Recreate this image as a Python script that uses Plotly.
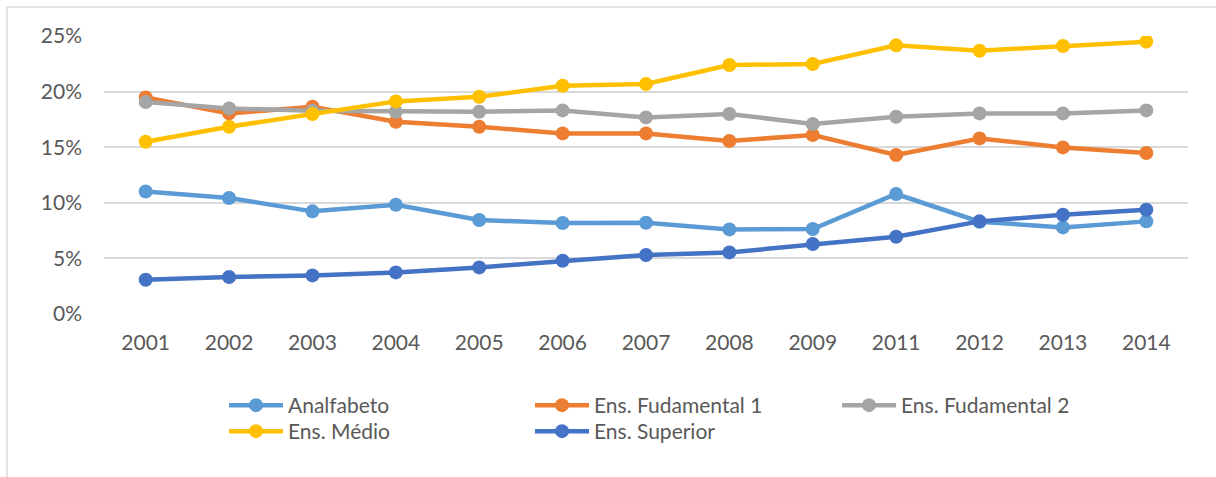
import plotly.graph_objects as go

# Education level share by year
years = ["2001", "2002", "2003", "2004", "2005", "2006", "2007",
         "2008", "2009", "2011", "2012", "2013", "2014"]

analfabeto = [0.1102, 0.1043, 0.0923, 0.0983, 0.0845, 0.0818, 0.0821,
              0.0761, 0.0764, 0.1079, 0.0830, 0.0779, 0.0833]
fundamental1 = [0.1948, 0.1804, 0.1864, 0.1729, 0.1684, 0.1624, 0.1624,
                0.1556, 0.1610, 0.1430, 0.1579, 0.1498, 0.1448]
fundamental2 = [0.1906, 0.1849, 0.1828, 0.1819, 0.1819, 0.1831, 0.1768,
                0.1799, 0.1709, 0.1774, 0.1804, 0.1804, 0.1831]
medio = [0.1549, 0.1684, 0.1799, 0.1912, 0.1954, 0.2053, 0.2068,
         0.2239, 0.2248, 0.2416, 0.2368, 0.2410, 0.2449]
superior = [0.0308, 0.0333, 0.0347, 0.0374, 0.0419, 0.0479, 0.0531,
            0.0554, 0.0629, 0.0695, 0.0833, 0.0893, 0.0938]

W, H = 1216, 477
L, R, T, B = 104, 28, 36, 163
pw, ph = W - L - R, H - T - B


def px_x(p):
    return (p - L) / pw


def px_y(p):
    return (H - B - p) / ph


# name, values, colour, legend id, legend box left/top in pixels
series = [
    ("Analfabeto", analfabeto, "#5B9BD5", "legend", 224, 385),
    ("Ens. Fudamental 1", fundamental1, "#ED7D31", "legend2", 530, 385),
    ("Ens. Fudamental 2", fundamental2, "#A5A5A5", "legend3", 837, 385),
    ("Ens. Médio", medio, "#FFC000", "legend4", 224, 411),
    ("Ens. Superior", superior, "#4472C4", "legend5", 530, 411),
]

FONT = "Lato, 'Open Sans', sans-serif"
TXT = "#595959"
FS = 21

fig = go.Figure()
for name, vals, color, leg, _, _ in series:
    fig.add_trace(go.Scatter(
        x=years, y=vals, name=name, mode="lines+markers",
        line=dict(color=color, width=4.5),
        marker=dict(color=color, size=14),
        legend=leg,
    ))

legends = {}
for name, vals, color, leg, lx, ly in series:
    legends[leg] = dict(
        x=px_x(lx), y=px_y(ly), orientation="v",
        xanchor="left", yanchor="top",
        font=dict(family=FONT, size=FS, color=TXT),
        itemwidth=54, bgcolor="rgba(0,0,0,0)",
        itemclick=False, itemdoubleclick=False,
    )

fig.update_layout(
    width=W, height=H,
    margin=dict(l=L, r=R, t=T, b=B),
    paper_bgcolor="white", plot_bgcolor="white",
    font=dict(family=FONT, size=FS, color=TXT),
    showlegend=True,
    xaxis=dict(
        type="category", range=[-0.5, len(years) - 0.5],
        showgrid=False, zeroline=False, showline=False,
        ticks="", ticklabelstandoff=14,
        tickfont=dict(family=FONT, size=FS, color=TXT),
    ),
    yaxis=dict(
        range=[0, 0.25], dtick=0.05, tickformat=".0%",
        showgrid=True, gridcolor="#D9D9D9", gridwidth=1.5,
        zeroline=False, showline=False, ticks="",
        ticklabelstandoff=21,
        tickfont=dict(family=FONT, size=FS, color=TXT),
    ),
    shapes=[dict(
        type="rect", xref="paper", yref="paper",
        x0=px_x(7), x1=px_x(1222), y0=px_y(482), y1=px_y(7),
        line=dict(color="#D9D9D9", width=1.5), fillcolor="rgba(0,0,0,0)",
        layer="below",
    )],
    **legends,
)

fig.write_html("out.html")
